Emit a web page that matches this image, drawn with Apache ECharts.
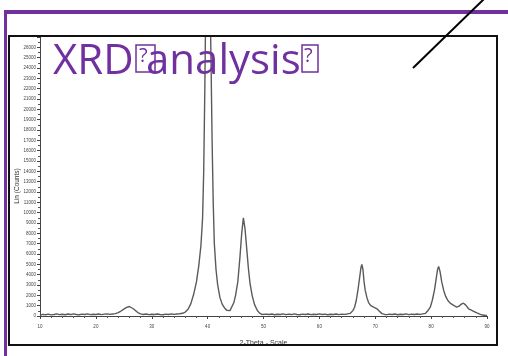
<!DOCTYPE html>
<html>
<head>
<meta charset="utf-8">
<style>
html,body{margin:0;padding:0;background:#fff;}
#c{width:508px;height:356px;}
</style>
<script src="https://cdn.jsdelivr.net/npm/echarts@6/dist/echarts.min.js"></script>
</head>
<body>
<div id="c"></div>
<script>
// 2-Theta values (degrees)
var twoTheta = [
10.0,10.5,11.0,11.5,12.0,12.5,13.0,13.5,14.0,14.5,15.0,15.5,16.0,16.5,17.0,17.5,18.0,18.5,19.0,19.5,
20.0,20.5,21.0,21.5,22.0,22.5,23.0,23.5,24.0,24.5,25.0,25.5,26.0,26.3,26.7,27.0,27.5,28.0,28.5,29.0,
29.5,30.0,30.5,31.0,31.5,32.0,32.5,33.0,33.5,34.0,34.5,35.0,35.5,36.0,36.5,37.0,37.5,38.0,38.4,38.8,
39.1,39.3,39.5,39.7,39.85,40.0,40.15,40.35,40.6,40.8,41.0,41.2,41.5,41.8,42.2,42.6,43.0,43.4,43.7,44.0,
44.3,44.7,45.0,45.4,45.8,46.1,46.4,46.7,47.0,47.3,47.6,48.0,48.4,48.9,49.3,49.7,50.0,50.5,51.0,51.5,
52.0,52.5,53.0,53.5,54.0,54.5,55.0,55.5,56.0,56.5,57.0,57.5,58.0,58.5,59.0,59.5,60.0,60.5,61.0,61.5,
62.0,62.5,63.0,63.5,64.0,64.5,65.0,65.5,66.0,66.3,66.6,66.9,67.2,67.45,67.6,67.8,68.0,68.2,68.5,68.8,
69.2,69.7,70.0,70.3,70.7,71.2,71.7,72.1,72.5,73.0,73.5,74.0,74.5,75.0,75.5,76.0,76.5,77.0,77.5,78.0,
78.5,79.0,79.4,79.85,80.2,80.6,80.9,81.15,81.35,81.6,81.9,82.24,82.6,83.0,83.4,83.7,84.1,84.6,85.0,85.4,
85.8,86.2,86.7,87.2,87.7,88.2,88.7,89.2,89.6,90.0
];
// Lin (Counts)
var counts = [
90,160,120,180,110,150,200,130,170,120,190,140,210,150,120,180,140,200,130,170,
150,190,130,180,210,160,200,230,330,480,660,830,920,880,700,520,330,200,150,190,
130,170,140,190,150,120,180,140,200,160,190,220,260,380,650,1200,2100,3300,4800,6800,
9500,14000,22000,32000,40000,43000,41000,34000,25000,17000,11000,7000,4500,3000,1800,1150,800,560,470,520,
700,1300,2000,3300,5800,8000,9500,8400,6500,4600,3100,1900,1100,530,280,150,130,180,140,190,
120,170,150,200,130,180,140,210,150,120,180,140,190,130,170,150,200,140,180,120,
170,150,190,130,180,160,200,250,520,850,1500,2500,3700,4700,5000,4500,3300,2500,1800,1300,
1000,850,760,700,480,230,150,130,180,140,190,120,170,150,200,130,180,150,190,160,
210,260,500,850,1500,2500,3600,4500,4800,4300,3300,2500,1900,1500,1250,1180,1000,860,950,1150,
1240,1050,700,560,430,300,180,90,70,60
];
var xTicks = [10,20,30,40,50,60,70,80,90];
var titleParts = ['XRD', 'analysis'];

var chart = echarts.init(document.getElementById('c'), null, {renderer:'canvas'});
var data = twoTheta.map(function(t,i){return [t, counts[i]];});
var purple = '#7030A0';
var lblFont = 'Liberation Sans';

chart.setOption({
  animation:false,
  grid:{left:40, right:21, top:37, bottom:40},
  xAxis:{
    type:'value', min:xTicks[0], max:xTicks[xTicks.length-1], interval:10,
    name:'2-Theta - Scale', nameLocation:'middle', nameGap:24,
    nameTextStyle:{fontSize:7, color:'#333', fontFamily:lblFont},
    axisLine:{show:true, lineStyle:{color:'#444', width:1}},
    axisTick:{show:true, length:3, lineStyle:{color:'#444'}},
    minorTick:{show:true, splitNumber:5, length:2, lineStyle:{color:'#555'}},
    axisLabel:{fontSize:4.5, color:'#444', margin:8, fontFamily:lblFont},
    splitLine:{show:false}
  },
  yAxis:{
    type:'value', min:0, max:27000, interval:1000,
    axisLine:{show:true, lineStyle:{color:'#444', width:1}},
    axisTick:{show:true, length:3, lineStyle:{color:'#444'}},
    minorTick:{show:true, splitNumber:2, length:2, lineStyle:{color:'#555'}},
    axisLabel:{fontSize:4.5, color:'#444', margin:4, fontFamily:lblFont, showMaxLabel:false,
      formatter:function(v){return String(v);}},
    splitLine:{show:false}
  },
  series:[{
    type:'line', data:data, showSymbol:false, clip:true,
    lineStyle:{color:'#5a5a5a', width:1.4}
  }],
  graphic:[
    {type:'rect', shape:{x:4,y:10,width:504,height:4}, style:{fill:purple}, z:10},
    {type:'rect', shape:{x:4,y:10,width:3,height:346}, style:{fill:purple}, z:10},
    {type:'rect', shape:{x:9,y:36,width:488,height:309}, style:{fill:'none', stroke:'#111', lineWidth:2}, z:5},
    {type:'line', shape:{x1:413,y1:68,x2:484,y2:-1}, style:{stroke:'#000', lineWidth:2}, z:11},
    {type:'text', x:17, y:186, rotation:Math.PI/2,
      style:{text:'Lin (Counts)', fontSize:6.5, fill:'#333', fontFamily:lblFont, align:'center', verticalAlign:'middle'}, z:6},
    {type:'text', x:53, y:62, style:{text:titleParts[0], fontSize:42, fill:purple, fontFamily:'Open Sans', verticalAlign:'middle'}, z:12},
    {type:'rect', shape:{x:136,y:45,width:19,height:27}, style:{fill:'none', stroke:purple, lineWidth:1.5}, z:12},
    {type:'text', x:139, y:56, style:{text:'?', fontSize:20, fill:purple, fontFamily:'Open Sans', verticalAlign:'middle'}, z:12},
    {type:'text', x:146, y:62, style:{text:titleParts[1], fontSize:42, fill:purple, fontFamily:'Open Sans', verticalAlign:'middle'}, z:12},
    {type:'rect', shape:{x:302,y:45,width:16,height:27}, style:{fill:'none', stroke:purple, lineWidth:1.5}, z:12},
    {type:'text', x:304, y:56, style:{text:'?', fontSize:20, fill:purple, fontFamily:'Open Sans', verticalAlign:'middle'}, z:12}
  ]
});
</script>
</body>
</html>
